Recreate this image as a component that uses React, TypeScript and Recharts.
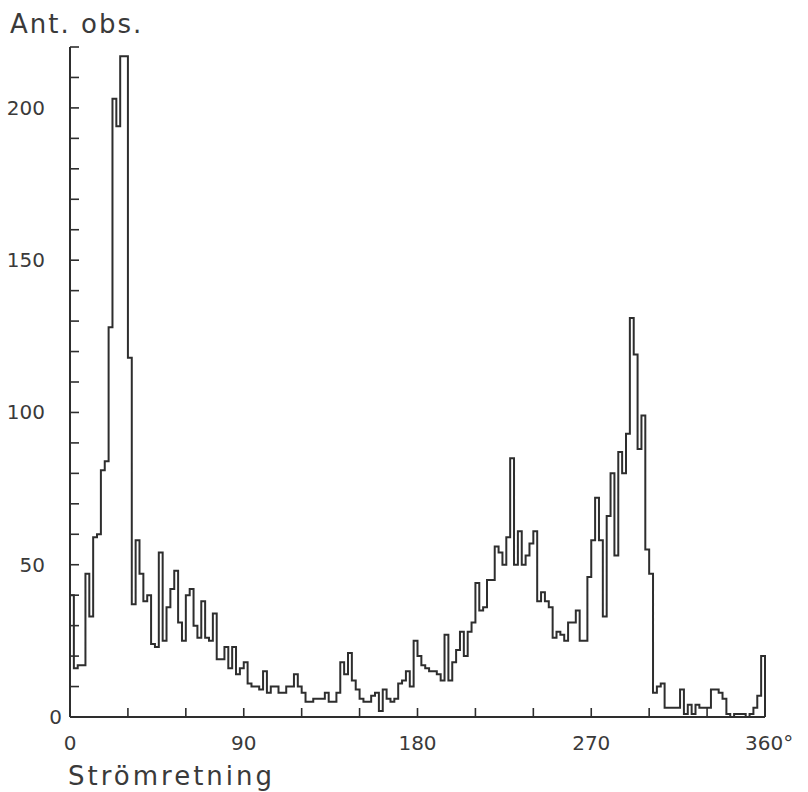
import React from "react"
import { LineChart, Line, XAxis, YAxis, Label } from "recharts"

// observations per 2° direction bin, 0°..360°
const BIN_WIDTH = 2
const counts = [
  40, 16, 17, 17, 47, 33, 59, 60, 81, 84,
  128, 203, 194, 217, 217, 118, 37, 58, 47, 38,
  40, 24, 23, 54, 25, 36, 42, 48, 31, 25,
  40, 42, 30, 26, 38, 26, 25, 34, 19, 19,
  23, 16, 23, 14, 16, 18, 11, 10, 10, 9,
  15, 8, 10, 10, 8, 8, 10, 10, 14, 10,
  8, 5, 5, 6, 6, 6, 8, 5, 5, 8,
  18, 14, 21, 12, 9, 6, 5, 5, 7, 8,
  2, 9, 6, 5, 6, 11, 12, 15, 10, 25,
  20, 17, 16, 15, 15, 14, 12, 27, 12, 18,
  22, 28, 20, 28, 31, 44, 35, 36, 45, 45,
  56, 54, 50, 59, 85, 50, 61, 50, 53, 57,
  61, 38, 41, 38, 36, 26, 28, 27, 25, 31,
  31, 35, 25, 25, 46, 58, 72, 58, 33, 66,
  80, 53, 87, 80, 93, 131, 119, 88, 99, 55,
  47, 8, 10, 11, 3, 3, 3, 3, 9, 1,
  4, 1, 4, 3, 3, 3, 9, 9, 8, 6,
  1, 0, 1, 1, 1, 0, 1, 3, 7, 20,
]

const xTicks = [0, 30, 60, 90, 120, 150, 180, 210, 240, 270, 300, 330, 360]
const xLabels = [0, 90, 180, 270, 360]
const yTicks = [0, 10, 20, 30, 40, 50, 60, 70, 80, 90, 100, 110, 120, 130, 140, 150, 160, 170, 180, 190, 200, 210, 220]
const yLabels = [0, 50, 100, 150, 200]

const data = [
  { deg: 0, n: 0 },
  ...counts.map((n, i) => ({ deg: i * BIN_WIDTH, n })),
  { deg: 360, n: counts[counts.length - 1] },
  { deg: 360, n: 0 },
]

const W = 808
const H = 792
const LEFT = 70
const TOP = 47
const BOTTOM = 75
const RIGHT = 43
const AXIS_Y = H - BOTTOM
const INK = "#2e2e2e"
const TEXT = "#3a3a3a"
const FONT = "'DejaVu Sans', sans-serif"

const YTick = (props: any) => {
  const { y, payload } = props
  const v = payload.value
  return (
    <g>
      <line x1={LEFT} y1={y} x2={LEFT + 9} y2={y} stroke={INK} strokeWidth={1.6} />
      {yLabels.includes(v) && (
        <text x={v === 0 ? LEFT - 8 : LEFT - 25} y={y + 7} textAnchor="end" fontSize={20} fontFamily={FONT} fill={TEXT}>
          {v}
        </text>
      )}
    </g>
  )
}

const XTick = (props: any) => {
  const { x, payload } = props
  const v = payload.value
  return (
    <g>
      <line x1={x} y1={AXIS_Y} x2={x} y2={AXIS_Y - 9} stroke={INK} strokeWidth={1.6} />
      {xLabels.includes(v) && (
        <text
          x={v === 360 ? x - 20 : x}
          y={AXIS_Y + 33}
          textAnchor={v === 360 ? "start" : "middle"}
          fontSize={20}
          fontFamily={FONT}
          fill={TEXT}
        >
          {v === 360 ? "360°" : v}
        </text>
      )}
    </g>
  )
}

export default function App() {
  return (
    <div style={{ position: "absolute", left: 0, top: 0, width: W, height: H, background: "#fff" }}>
      <LineChart width={W} height={H} data={data} margin={{ top: TOP, right: RIGHT, bottom: 0, left: 0 }}>
        <XAxis
          dataKey="deg"
          type="number"
          domain={[0, 360]}
          ticks={xTicks}
          tick={<XTick />}
          tickLine={false}
          tickSize={0}
          height={BOTTOM}
          axisLine={{ stroke: INK, strokeWidth: 2 }}
          interval={0}
        >
          <Label
            content={() => (
              <text x={68} y={785} fontSize={26} letterSpacing={3} fontFamily={FONT} fill={TEXT}>
                Strömretning
              </text>
            )}
          />
        </XAxis>
        <YAxis
          type="number"
          domain={[0, 220]}
          ticks={yTicks}
          tick={<YTick />}
          tickLine={false}
          tickSize={0}
          width={LEFT}
          axisLine={{ stroke: INK, strokeWidth: 2 }}
          interval={0}
        >
          <Label
            content={() => (
              <text x={10} y={33} fontSize={26} letterSpacing={2} fontFamily={FONT} fill={TEXT}>
                Ant. obs.
              </text>
            )}
          />
        </YAxis>
        <Line
          type="stepAfter"
          dataKey="n"
          stroke={INK}
          strokeWidth={2}
          dot={false}
          isAnimationActive={false}
        />
      </LineChart>
    </div>
  )
}
